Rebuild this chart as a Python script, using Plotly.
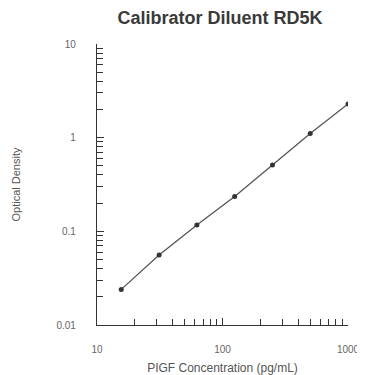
import plotly.graph_objects as go

conc = [15.6, 31.25, 62.5, 125, 250, 500, 1000]
od = [0.024, 0.056, 0.117, 0.236, 0.51, 1.11, 2.29]
x_ticks = [10, 100, 1000]
y_ticks = [0.01, 0.1, 1, 10]

fig = go.Figure()
fig.add_trace(go.Scatter(x=conc, y=od, mode="lines+markers",
                         line=dict(color="#555555", width=1.3),
                         marker=dict(color="#333333", size=5),
                         showlegend=False))

# page has an 8px body margin, so the figure is sized to fit inside the window
W, H = 357, 367
font = "Liberation Sans, Arial, sans-serif"
fig.update_layout(
    width=W, height=H,
    margin=dict(l=89, r=17, t=36, b=50),
    paper_bgcolor="white", plot_bgcolor="white",
    title=dict(text="<b>Calibrator Diluent RD5K</b>", x=212 / W, xanchor="center",
               y=1 - 10 / H, yanchor="middle",
               font=dict(family=font, size=18, color="#3a3a3a")),
    font=dict(family=font, color="#555555"),
)
fig.update_xaxes(type="log", range=[1, 3], tickvals=x_ticks, ticktext=[str(v) for v in x_ticks],
                 ticks="inside", ticklen=7, tickcolor="#333333", showgrid=False, zeroline=False,
                 showline=True, linecolor="#333333", linewidth=1.3, automargin=False,
                 minor=dict(dtick="D1", ticks="inside", ticklen=6, tickcolor="#333333", showgrid=False),
                 ticklabelstandoff=15, tickfont=dict(size=10, color="#666666"),
                 title=dict(text="PIGF Concentration (pg/mL)", font=dict(size=12, color="#555555"), standoff=9))
fig.update_yaxes(type="log", range=[-2, 1], tickvals=y_ticks, ticktext=["0.01", "0.1", "1", "10"],
                 ticks="inside", ticklen=7, tickcolor="#333333", showgrid=False, zeroline=False,
                 showline=True, linecolor="#333333", linewidth=1.3, automargin=False,
                 minor=dict(dtick="D1", ticks="inside", ticklen=6, tickcolor="#333333", showgrid=False),
                 ticklabelstandoff=18, tickfont=dict(size=10, color="#666666"),
                 title=dict(text="Optical Density", font=dict(size=11, color="#555555"), standoff=33))
fig.write_html("out.html")
